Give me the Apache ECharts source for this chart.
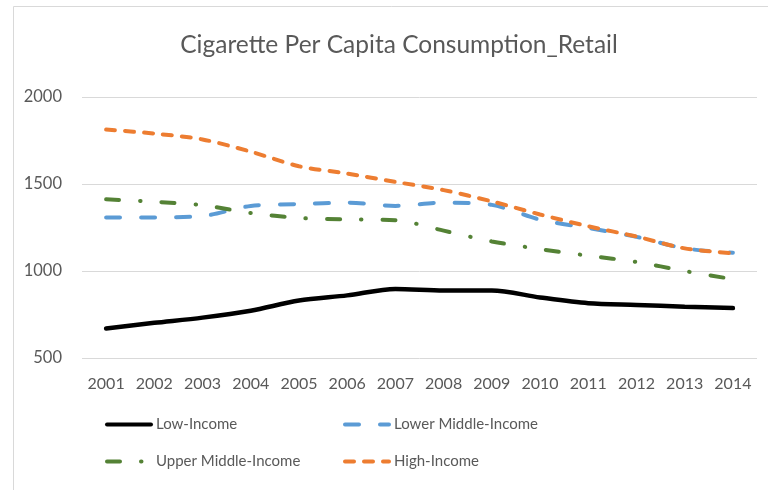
<!DOCTYPE html>
<html>
<head>
<meta charset="utf-8">
<script src="https://cdn.jsdelivr.net/npm/echarts@6/dist/echarts.min.js"></script>
<style>
  html, body { margin: 0; padding: 0; background: #fff; }
  #main { width: 768px; height: 490px; }
</style>
</head>
<body>
<div id="main"></div>
<script>
const years = ['2001', '2002', '2003', '2004', '2005', '2006', '2007', '2008', '2009', '2010', '2011', '2012', '2013', '2014'];
const lowIncome = [670, 702, 732, 772, 830, 860, 897, 888, 888, 848, 815, 805, 795, 787];
const lowerMiddle = [1308, 1308, 1316, 1374, 1385, 1393, 1374, 1393, 1380, 1295, 1247, 1196, 1130, 1105];
const upperMiddle = [1412, 1398, 1378, 1333, 1305, 1297, 1292, 1232, 1170, 1126, 1088, 1052, 1000, 953];
const highIncome = [1813, 1790, 1756, 1686, 1602, 1560, 1512, 1465, 1400, 1325, 1257, 1198, 1130, 1102];

const fontFamily = 'Lato, Open Sans, sans-serif';
const textColor = '#595959';

function mkSeries (name, data, color, type, width) {
  return {
    name: name,
    type: 'line',
    data: data,
    smooth: 0.3,
    showSymbol: false,
    symbol: 'none',
    lineStyle: { color: color, width: width, type: type, cap: 'round' },
    itemStyle: { color: color }
  };
}

function mkLegend (name, left, top) {
  return {
    data: [name],
    left: left,
    top: top,
    itemWidth: 44,
    itemHeight: 14,
    itemStyle: { color: 'rgba(0,0,0,0)', borderWidth: 0 },
    lineStyle: { width: 4 },
    textStyle: { color: textColor, fontSize: 15, fontFamily: fontFamily }
  };
}

let option = {
  animation: false,
  title: {
    text: 'Cigarette Per Capita Consumption_Retail',
    left: 394,
    textAlign: 'center',
    top: 28,
    textStyle: { color: textColor, fontSize: 24.5, fontWeight: 'normal', fontFamily: fontFamily }
  },
  graphic: [{
    type: 'rect',
    shape: { x: 13.5, y: 6.5, width: 800, height: 600 },
    style: { fill: 'none', stroke: '#d9d9d9', lineWidth: 1 },
    silent: true
  }],
  legend: [
    mkLegend('Low-Income', 100, 412),
    mkLegend('Lower Middle-Income', 338, 412),
    mkLegend('Upper Middle-Income', 100, 449),
    mkLegend('High-Income', 338, 449)
  ],
  grid: { left: 82, right: 11, top: 97, height: 261, containLabel: false },
  xAxis: {
    type: 'category',
    data: years,
    boundaryGap: true,
    axisLine: { show: false },
    axisTick: { show: false },
    axisLabel: { color: textColor, fontSize: 16, fontFamily: fontFamily, margin: 18, interval: 0 }
  },
  yAxis: {
    type: 'value',
    min: 500,
    max: 2000,
    interval: 500,
    axisLine: { show: false },
    axisTick: { show: false },
    splitLine: { lineStyle: { color: '#d9d9d9', width: 1 } },
    axisLabel: {
      color: textColor, fontSize: 16.5, fontFamily: fontFamily, margin: 20,
      formatter: function (v) { return String(v); }
    }
  },
  series: [
    mkSeries('Low-Income', lowIncome, '#000000', 'solid', 4.5),
    mkSeries('Lower Middle-Income', lowerMiddle, '#5b9bd5', [14, 21], 4),
    mkSeries('Upper Middle-Income', upperMiddle, '#548235', [13, 21, 0.5, 21], 4),
    mkSeries('High-Income', highIncome, '#ed7d31', [9, 10], 4)
  ]
};

let myChart = echarts.init(document.getElementById('main'));
myChart.setOption(option);
</script>
</body>
</html>
